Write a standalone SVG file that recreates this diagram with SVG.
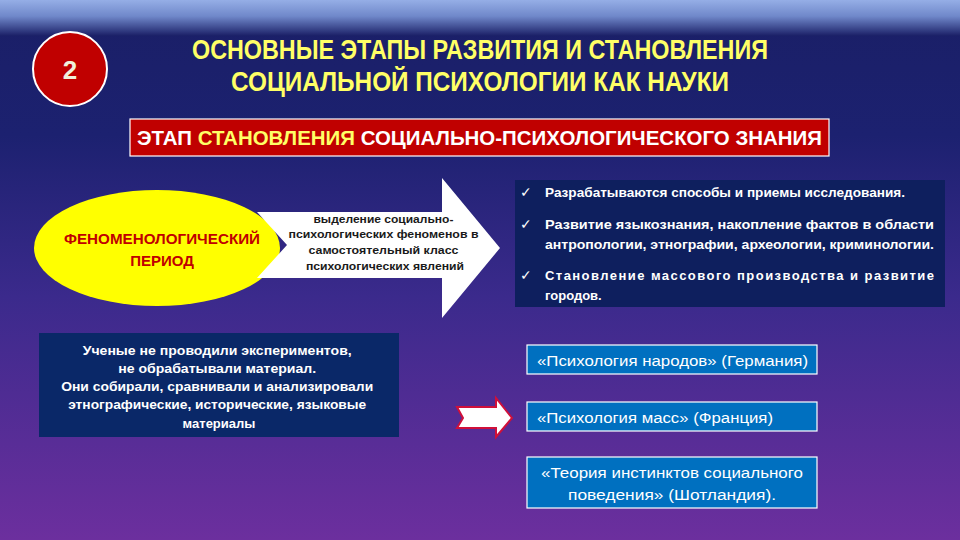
<svg xmlns="http://www.w3.org/2000/svg" width="960" height="540" viewBox="0 0 960 540">
<defs>
<linearGradient id="bg" x1="0" y1="0" x2="0" y2="1">
<stop offset="0" stop-color="#1a1f66"/>
<stop offset="0.25" stop-color="#1c2170"/>
<stop offset="0.55" stop-color="#3b2a8c"/>
<stop offset="1" stop-color="#6c2f9e"/>
</linearGradient>
<linearGradient id="top" x1="0" y1="0" x2="0" y2="1">
<stop offset="0" stop-color="#95aee6"/>
<stop offset="0.45" stop-color="#7088ca"/>
<stop offset="1" stop-color="#1a1f66"/>
</linearGradient>
<style>
.t{font-family:"Liberation Sans","Open Sans",sans-serif}
.title{font-weight:bold;font-size:27px;fill:#ffff66}
.blue{fill:#0070c0;stroke:#ffffff;stroke-width:1.2}
.bt{font-size:15.5px;fill:#ffffff}
.chk{font-size:13px;fill:#ffffff;font-weight:bold}
.mk{font-size:14px;fill:#ffffff}
</style>
</defs>
<rect x="0" y="0" width="960" height="540" fill="url(#bg)"/>
<rect x="0" y="0" width="960" height="36" fill="url(#top)"/>

<g id="badge">
<circle cx="70" cy="69" r="37" fill="#c00000" stroke="#ffffff" stroke-width="2"/>
<text class="t" x="70" y="79" text-anchor="middle" font-size="26" font-weight="bold" fill="#f0f0dc">2</text>
</g>

<g id="title">
<text class="t title" x="480" y="59" text-anchor="middle" textLength="576" lengthAdjust="spacingAndGlyphs">ОСНОВНЫЕ ЭТАПЫ РАЗВИТИЯ И СТАНОВЛЕНИЯ</text>
<text class="t title" x="480" y="91" text-anchor="middle" textLength="498" lengthAdjust="spacingAndGlyphs">СОЦИАЛЬНОЙ ПСИХОЛОГИИ КАК НАУКИ</text>
</g>

<g id="stage">
<rect x="130" y="119" width="699" height="37" fill="#c00000" stroke="#ffffff" stroke-width="1.2"/>
<text class="t" x="137" y="145" font-size="21" font-weight="bold" fill="#ffffff" textLength="685" lengthAdjust="spacingAndGlyphs">ЭТАП <tspan fill="#ffff66">СТАНОВЛЕНИЯ</tspan> СОЦИАЛЬНО-ПСИХОЛОГИЧЕСКОГО ЗНАНИЯ</text>
</g>

<g id="period">
<ellipse cx="157" cy="248" rx="123" ry="58" fill="#ffff00"/>
<text class="t" x="162" y="244" text-anchor="middle" font-size="15" font-weight="bold" fill="#c00000" textLength="196" lengthAdjust="spacingAndGlyphs">ФЕНОМЕНОЛОГИЧЕСКИЙ</text>
<text class="t" x="162" y="266" text-anchor="middle" font-size="15" font-weight="bold" fill="#c00000">ПЕРИОД</text>
</g>

<g id="bigArrow">
<polygon points="257,212 442,212 442,178 500,248 442,318 442,278 257,278 287,245" fill="#ffffff"/>
<text class="t" font-size="11" font-weight="bold" fill="#1a1a1a" text-anchor="middle">
<tspan x="385" y="223" textLength="140" lengthAdjust="spacingAndGlyphs">выделение социально-</tspan>
<tspan x="385" y="238" textLength="190" lengthAdjust="spacingAndGlyphs">психологических феноменов в</tspan>
<tspan x="385" y="254" textLength="150" lengthAdjust="spacingAndGlyphs">самостоятельный класс</tspan>
<tspan x="385" y="270" textLength="158" lengthAdjust="spacingAndGlyphs">психологических явлений</tspan>
</text>
</g>

<g id="features">
<rect x="515" y="180" width="430" height="127" fill="#0e1f5e"/>
<text class="t mk" x="520" y="197">✓</text>
<text class="t chk" x="545" y="197" textLength="360" lengthAdjust="spacingAndGlyphs">Разрабатываются способы и приемы исследования.</text>
<text class="t mk" x="520" y="229">✓</text>
<text class="t chk" x="545" y="229" textLength="389" lengthAdjust="spacingAndGlyphs">Развитие языкознания, накопление фактов в области</text>
<text class="t chk" x="545" y="249" textLength="389" lengthAdjust="spacingAndGlyphs">антропологии, этнографии, археологии, криминологии.</text>
<text class="t mk" x="520" y="280">✓</text>
<text class="t chk" x="545" y="280" textLength="389" lengthAdjust="spacing">Становление массового производства и развитие</text>
<text class="t chk" x="545" y="300">городов.</text>
</g>

<g id="scientists">
<rect x="39" y="333" width="360" height="104" fill="#0a2868"/>
<text class="t" font-size="13" font-weight="bold" fill="#ffffff" text-anchor="middle">
<tspan x="219" y="355" textLength="269" lengthAdjust="spacingAndGlyphs">Ученые не проводили экспериментов,</tspan>
<tspan x="219" y="373" textLength="198" lengthAdjust="spacingAndGlyphs">не обрабатывали материал.</tspan>
<tspan x="219" y="391" textLength="312" lengthAdjust="spacingAndGlyphs">Они собирали, сравнивали и анализировали</tspan>
<tspan x="219" y="409" textLength="298" lengthAdjust="spacingAndGlyphs">этнографические, исторические, языковые</tspan>
<tspan x="219" y="428">материалы</tspan>
</text>
</g>

<g id="connectors">
<polygon points="457,407 496,407 496,398 512,418 496,437 496,428 457,428 463,418" fill="#ffffff" stroke="#d0103a" stroke-width="2"/>
</g>

<g id="germany">
<rect class="blue" x="527" y="345" width="290" height="29"/>
<text class="t bt" x="537" y="366" textLength="271" lengthAdjust="spacingAndGlyphs">«Психология народов» (Германия)</text>
</g>

<g id="france">
<rect class="blue" x="527" y="402" width="290" height="29"/>
<text class="t bt" x="537" y="423" textLength="236" lengthAdjust="spacingAndGlyphs">«Психология масс» (Франция)</text>
</g>

<g id="scotland">
<rect class="blue" x="527" y="457" width="290" height="51"/>
<text class="t bt" x="672" y="478" text-anchor="middle" textLength="262" lengthAdjust="spacingAndGlyphs">«Теория инстинктов социального</text>
<text class="t bt" x="672" y="500" text-anchor="middle" textLength="208" lengthAdjust="spacingAndGlyphs">поведения» (Шотландия).</text>
</g>
</svg>
